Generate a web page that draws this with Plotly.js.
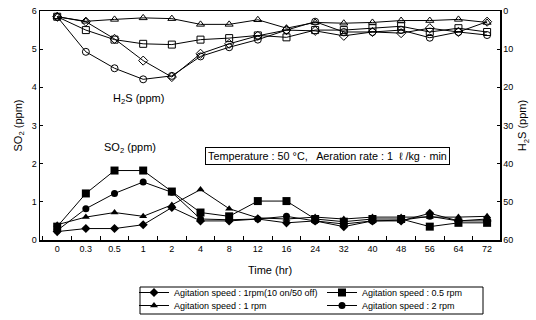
<!DOCTYPE html>
<html>
<head>
<meta charset="utf-8">
<script src="https://cdn.plot.ly/plotly-3.0.1.min.js"></script>
<style>html,body{margin:0;padding:0;background:#fff}#chart{width:536px;height:320px}</style>
</head>
<body>
<div id="chart"></div>
<script>
const timeLabels = ["0","0.3","0.5","1","2","4","8","12","16","24","32","40","48","56","64","72"];
const seriesNames = [
  "Agitation speed : 1rpm(10 on/50 off)",
  "Agitation speed : 0.5 rpm",
  "Agitation speed : 1 rpm",
  "Agitation speed : 2 rpm"
];
// SO2 (ppm), left axis, filled markers
const so2Diamond  = [0.22,0.30,0.30,0.40,0.85,0.50,0.50,0.55,0.45,0.50,0.35,0.50,0.50,0.70,0.50,0.50];
const so2Square   = [0.35,1.22,1.82,1.82,1.27,0.72,0.62,1.02,1.02,0.55,0.48,0.55,0.55,0.35,0.45,0.45];
const so2Triangle = [0.40,0.60,0.72,0.62,0.92,1.32,0.82,0.58,0.55,0.60,0.55,0.60,0.60,0.60,0.60,0.62];
const so2Circle   = [0.25,0.82,1.22,1.52,1.25,0.55,0.53,0.55,0.62,0.50,0.42,0.50,0.52,0.62,0.50,0.55];
// H2S (ppm), right reversed axis, open markers
const h2sDiamond  = [1.5,2.8,7.3,13.0,17.3,11.2,8.6,6.5,5.0,5.2,6.5,5.5,5.8,4.5,5.5,2.8];
const h2sSquare   = [1.5,5.0,7.5,8.6,8.8,7.5,7.1,6.4,6.9,5.0,5.0,4.5,4.0,5.5,4.5,5.5];
const h2sTriangle = [1.5,2.7,2.2,1.8,2.0,3.5,3.5,2.3,4.5,3.0,3.2,3.0,2.5,2.5,2.2,3.0];
const h2sCircle   = [1.5,10.7,15.0,17.9,17.0,11.9,9.5,7.5,5.0,2.8,5.5,5.5,5.0,7.0,5.5,6.3];

const symbols = ["diamond","square","triangle-up","circle"];
const legendIds = ["legend","legend2","legend3","legend4"];
const so2 = [so2Diamond, so2Square, so2Triangle, so2Circle];
const h2s = [h2sDiamond, h2sSquare, h2sTriangle, h2sCircle];

const traces = [];
for (let i = 0; i < 4; i++) {
  traces.push({
    x: timeLabels, y: so2[i], type: "scatter", mode: "lines+markers",
    name: seriesNames[i], yaxis: "y", legend: legendIds[i],
    line: {color: "#000", width: 1},
    marker: {symbol: symbols[i], size: i === 1 ? 8 : 7, color: "#000"}
  });
}
for (let i = 0; i < 4; i++) {
  traces.push({
    x: timeLabels, y: h2s[i], type: "scatter", mode: "lines+markers",
    name: seriesNames[i] + " H2S", yaxis: "y2", showlegend: false,
    line: {color: "#000", width: 1},
    marker: {symbol: symbols[i] + "-open", size: 7, color: "#000", line: {width: 1}}
  });
}

const font = {family: "Liberation Sans, Arial, sans-serif", color: "#000"};
const py = p => (240 - p) / 229;
const px = p => (p - 40) / 460;
const mkLegend = (x, y) => ({
  orientation: "h", xanchor: "left", yanchor: "top",
  x: px(x), y: py(y),
  borderwidth: 0, bgcolor: "rgba(0,0,0,0)",
  font: {size: 9}, itemwidth: 30
});
const layout = {
  width: 536, height: 320,
  margin: {l: 40, r: 36, t: 11, b: 80, autoexpand: false},
  paper_bgcolor: "#fff", plot_bgcolor: "#fff",
  font: Object.assign({size: 9}, font),
  showlegend: true,
  xaxis: {
    type: "category", range: [-0.6, 15.45],
    showline: true, linecolor: "#000", linewidth: 1.5, mirror: true,
    ticks: "inside", ticklen: 4, tickson: "boundaries", tickcolor: "#000",
    showgrid: false, zeroline: false,
    tickfont: {size: 9},
    title: {text: "Time (hr)", font: {size: 11}, standoff: 13}
  },
  yaxis: {
    range: [0, 6], dtick: 1,
    showline: true, linecolor: "#000", linewidth: 1.5,
    ticks: "inside", ticklen: 3, tickcolor: "#000",
    showgrid: false, zeroline: false,
    tickfont: {size: 9},
    title: {text: "SO<sub>2</sub> (ppm)", font: {size: 11}, standoff: 7}
  },
  yaxis2: {
    overlaying: "y", side: "right", range: [60, 0], dtick: 10,
    showline: true, linecolor: "#000", linewidth: 1.5,
    ticks: "inside", ticklen: 3, tickcolor: "#000",
    showgrid: false, zeroline: false,
    tickfont: {size: 9},
    title: {text: "H<sub>2</sub>S (ppm)", font: {size: 11}, standoff: 6}
  },
  legend: mkLegend(134, 278),
  legend2: mkLegend(322, 278),
  legend3: mkLegend(134, 291),
  legend4: mkLegend(322, 291),
  shapes: [
    {type: "rect", xref: "paper", yref: "paper",
     x0: px(140), x1: px(483), y0: py(287), y1: py(314),
     line: {color: "#000", width: 1}, fillcolor: "rgba(0,0,0,0)"}
  ],
  annotations: [
    {xref: "paper", yref: "paper", x: px(138), y: py(99), xanchor: "center", yanchor: "middle",
     text: "H<sub>2</sub>S (ppm)", showarrow: false, font: {size: 11}},
    {xref: "paper", yref: "paper", x: px(130), y: py(148), xanchor: "center", yanchor: "middle",
     text: "SO<sub>2</sub> (ppm)", showarrow: false, font: {size: 11}},
    {xref: "paper", yref: "paper", x: px(327), y: py(156), xanchor: "center", yanchor: "middle",
     text: "Temperature : 50 °C,   Aeration rate : 1  ℓ /kg · min",
     showarrow: false, font: {size: 10.8},
     bordercolor: "#000", borderwidth: 1, borderpad: 2, bgcolor: "#fff"}
  ]
};

Plotly.newPlot("chart", traces, layout, {displayModeBar: false, staticPlot: true});
</script>
</body>
</html>
